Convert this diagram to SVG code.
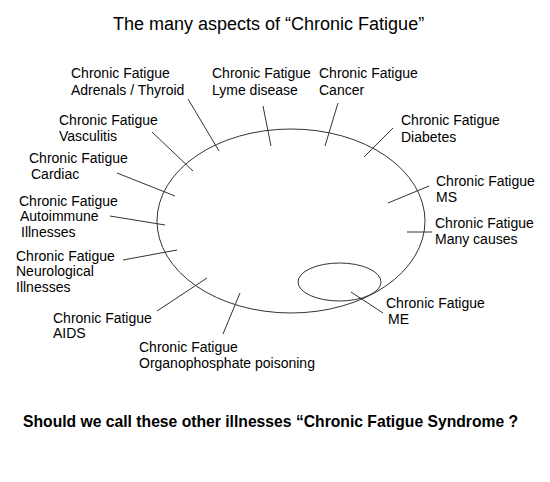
<svg xmlns="http://www.w3.org/2000/svg" width="550" height="482" viewBox="0 0 550 482">
<style>
text{font-family:"Liberation Sans",Arial,sans-serif;fill:#000}
.l{font-size:14px}
.t{font-size:18px}
.b{font-size:15.7px;font-weight:bold}
.c{stroke:#333;stroke-width:1;fill:none}
</style>
<rect width="550" height="482" fill="#fff"/>
<text class="t" x="113" y="30">The many aspects of “Chronic Fatigue”</text>
<g id="main-ellipse"><ellipse class="c" cx="291" cy="221" rx="134" ry="92"/></g>
<g id="me-ellipse"><ellipse class="c" cx="339.5" cy="282" rx="41.5" ry="19"/></g>
<g id="connectors">
<line class="c" x1="188" y1="99" x2="219" y2="151"/>
<line class="c" x1="263" y1="106" x2="271" y2="146"/>
<line class="c" x1="338" y1="103" x2="325" y2="146"/>
<line class="c" x1="393" y1="128" x2="364" y2="157"/>
<line class="c" x1="429" y1="186" x2="388" y2="203"/>
<line class="c" x1="407" y1="232" x2="432" y2="232"/>
<line class="c" x1="152" y1="132" x2="193" y2="171"/>
<line class="c" x1="117" y1="173" x2="175" y2="196"/>
<line class="c" x1="110" y1="216" x2="165" y2="225"/>
<line class="c" x1="123" y1="260" x2="177" y2="250"/>
<line class="c" x1="157" y1="311" x2="207" y2="278"/>
<line class="c" x1="223" y1="334" x2="240" y2="293"/>
<line class="c" x1="351" y1="292" x2="383" y2="313"/>
</g>
<g id="n-adrenals"><text class="l" x="71" y="78">Chronic Fatigue</text><text class="l" x="71" y="95">Adrenals / Thyroid</text></g>
<g id="n-lyme"><text class="l" x="212" y="78">Chronic Fatigue</text><text class="l" x="212" y="95">Lyme disease</text></g>
<g id="n-cancer"><text class="l" x="319" y="78">Chronic Fatigue</text><text class="l" x="319" y="95">Cancer</text></g>
<g id="n-diabetes"><text class="l" x="401" y="125">Chronic Fatigue</text><text class="l" x="401" y="142">Diabetes</text></g>
<g id="n-ms"><text class="l" x="436" y="186">Chronic Fatigue</text><text class="l" x="436" y="202">MS</text></g>
<g id="n-many"><text class="l" x="435" y="228">Chronic Fatigue</text><text class="l" x="435" y="244">Many causes</text></g>
<g id="n-vasculitis"><text class="l" x="59" y="125">Chronic Fatigue</text><text class="l" x="59" y="141">Vasculitis</text></g>
<g id="n-cardiac"><text class="l" x="29" y="163">Chronic Fatigue</text><text class="l" x="31" y="179">Cardiac</text></g>
<g id="n-autoimmune"><text class="l" x="19" y="206">Chronic Fatigue</text><text class="l" x="20" y="221">Autoimmune</text><text class="l" x="21" y="237">Illnesses</text></g>
<g id="n-neuro"><text class="l" x="16" y="261">Chronic Fatigue</text><text class="l" x="16" y="276">Neurological</text><text class="l" x="16" y="292">Illnesses</text></g>
<g id="n-aids"><text class="l" x="53" y="323">Chronic Fatigue</text><text class="l" x="53" y="338">AIDS</text></g>
<g id="n-organo"><text class="l" x="139" y="352">Chronic Fatigue</text><text class="l" x="139" y="368">Organophosphate poisoning</text></g>
<g id="n-me"><text class="l" x="386" y="308">Chronic Fatigue</text><text class="l" x="388" y="324">ME</text></g>
<text class="b" x="23" y="427">Should we call these other illnesses “Chronic Fatigue Syndrome ?</text>
</svg>
